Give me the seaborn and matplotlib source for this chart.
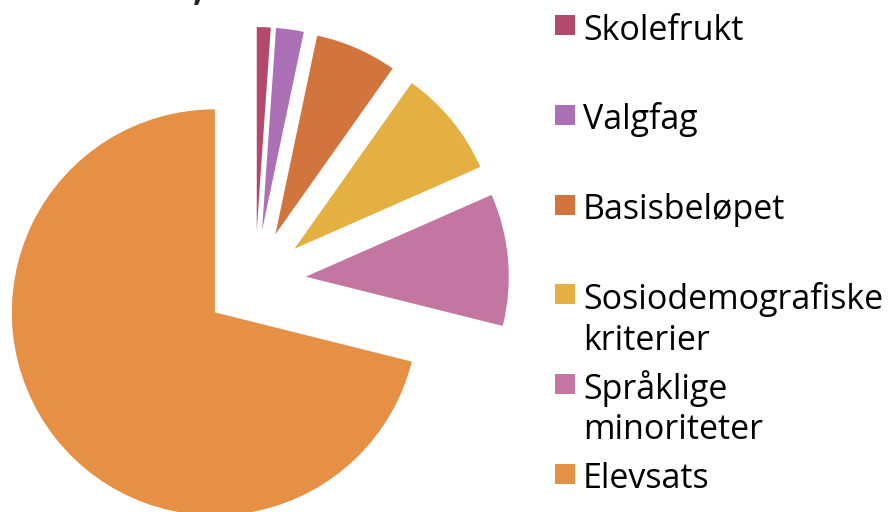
import seaborn as sns
import matplotlib.pyplot as plt
from matplotlib.patches import Rectangle

##### Data

labels = ['Skolefrukt', 'Valgfag', 'Basisbeløpet',
          'Sosiodemografiske\nkriterier', 'Språklige\nminoriteter', 'Elevsats']
shares = [1.1, 2.2, 6.5, 8.6, 10.5, 71.1]
colors = ['#B34A6E', '#AB70B5', '#D1743E', '#E4B041', '#C476A2', '#E59045']

##### Plot

sns.set_style('white')
plt.rcParams['font.family'] = ['Open Sans', 'DejaVu Sans']

W, H = 893, 512
fig = plt.figure(figsize=(W / 100, H / 100), dpi=100)
ax = fig.add_axes([0, 0, 1, 1])

ax.pie(shares, colors=colors, startangle=90, counterclock=False,
       explode=[0.251] * len(shares), radius=1,
       wedgeprops=dict(linewidth=0))

# pie centre at (255, 281) px, radius 203 px; rest of the pie runs off the canvas
r = 203
ax.set_xlim(-255 / r, (W - 255) / r)
ax.set_ylim(-(H - 281) / r, 281 / r)
ax.set_aspect('equal', adjustable='box')
ax.axis('off')

# cut-off title remnant
fig.text(193 / W, 1.0, ',', fontsize=26, fontweight='bold', va='baseline')

##### Legend (entries evenly spaced, square on the first line)

for i, (lab, col) in enumerate(zip(labels, colors)):
    yc = 25 + i * 89.8
    fig.patches.append(Rectangle((555 / W, 1 - (yc + 10) / H), 20 / W, 20 / H,
                                 transform=fig.transFigure, color=col,
                                 linewidth=0))
    for j, line in enumerate(lab.split('\n')):
        fig.text(583 / W, 1 - (yc + 14.5 + j * 40.7) / H, line,
                 fontsize=24.5, va='baseline', ha='left', color='black')

plt.savefig('out.png', dpi=100)
